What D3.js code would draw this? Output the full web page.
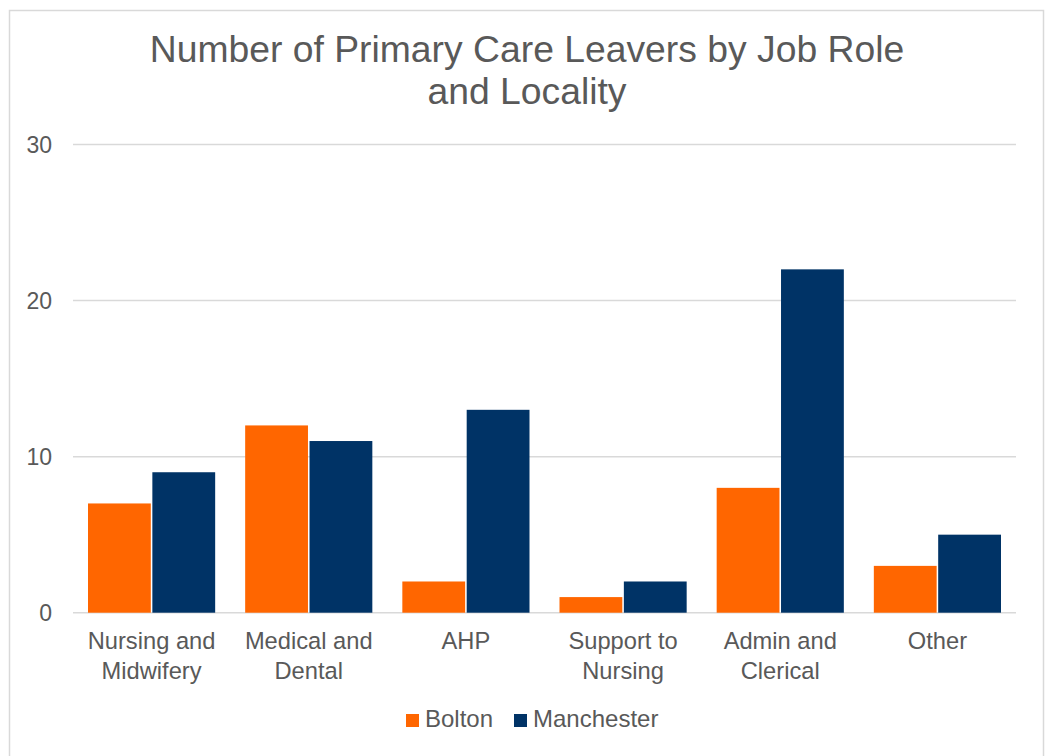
<!DOCTYPE html>
<html>
<head>
<meta charset="utf-8">
<script src="https://cdn.jsdelivr.net/npm/d3@7/dist/d3.min.js"></script>
<style>
  html, body { margin: 0; padding: 0; background: #fff; }
  svg { display: block; font-family: "Liberation Sans", Arial, sans-serif; }
</style>
</head>
<body>
<svg id="chart" width="1046" height="756"></svg>
<script>
// Leavers per job role, by locality
const categories = [
  ["Nursing and", "Midwifery"],
  ["Medical and", "Dental"],
  ["AHP"],
  ["Support to", "Nursing"],
  ["Admin and", "Clerical"],
  ["Other"]
];
const seriesNames = ["Bolton", "Manchester"];
const bolton = [7, 12, 2, 1, 8, 3];
const manchester = [9, 11, 13, 2, 22, 5];
const yTicks = [0, 10, 20, 30];
const colors = ["#FF6600", "#003366"];

const svg = d3.select("#chart");
const textColor = "#595959";

// outer frame
svg.append("rect")
  .attr("x", 9.5).attr("y", 10.5)
  .attr("width", 1034).attr("height", 770)
  .attr("fill", "#fff").attr("stroke", "#d9d9d9").attr("stroke-width", 1.5);

// title
const title = svg.append("text")
  .attr("text-anchor", "middle")
  .attr("fill", textColor)
  .attr("font-size", 37.3);
title.append("tspan").attr("x", 527).attr("y", 61.5).text("Number of Primary Care Leavers by Job Role");
title.append("tspan").attr("x", 527).attr("y", 104).text("and Locality");

const margin = { left: 73, right: 1016, top: 144.5, bottom: 612.7 };

const x0 = d3.scaleBand()
  .domain(d3.range(categories.length))
  .range([margin.left, margin.right])
  .paddingInner(0).paddingOuter(0);

const groupPad = 15;
const x1 = d3.scaleBand()
  .domain(seriesNames)
  .range([groupPad, x0.bandwidth() - groupPad])
  .paddingInner(0.024);

const y = d3.scaleLinear().domain([0, 30]).range([margin.bottom, margin.top]);

// gridlines
svg.append("g")
  .selectAll("line")
  .data(yTicks)
  .join("line")
  .attr("x1", margin.left).attr("x2", margin.right)
  .attr("y1", d => y(d)).attr("y2", d => y(d))
  .attr("stroke", "#d9d9d9").attr("stroke-width", 1.5);

// y tick labels
svg.append("g")
  .selectAll("text")
  .data(yTicks)
  .join("text")
  .attr("x", 52).attr("y", d => y(d))
  .attr("dy", "0.35em")
  .attr("text-anchor", "end")
  .attr("fill", textColor)
  .attr("font-size", 23)
  .text(d => d);

// bars
const seriesData = [bolton, manchester];
const groups = svg.append("g")
  .selectAll("g")
  .data(seriesNames)
  .join("g")
  .attr("fill", (d, i) => colors[i]);

groups.selectAll("rect")
  .data((name, si) => seriesData[si].map((v, ci) => ({ name, v, ci })))
  .join("rect")
  .attr("x", d => x0(d.ci) + x1(d.name))
  .attr("width", x1.bandwidth())
  .attr("y", d => y(d.v))
  .attr("height", d => y(0) - y(d.v));

// category labels
const catLabels = svg.append("g")
  .selectAll("text")
  .data(categories)
  .join("text")
  .attr("text-anchor", "middle")
  .attr("fill", textColor)
  .attr("font-size", 23.7);
catLabels.selectAll("tspan")
  .data((lines, ci) => lines.map((t, li) => ({ t, li, ci })))
  .join("tspan")
  .attr("x", d => x0(d.ci) + x0.bandwidth() / 2)
  .attr("y", d => 649 + d.li * 29.5)
  .text(d => d.t);

// legend
const legendItems = [
  { name: seriesNames[0], color: colors[0], x: 406 },
  { name: seriesNames[1], color: colors[1], x: 514 }
];
const legend = svg.append("g")
  .selectAll("g")
  .data(legendItems)
  .join("g")
  .attr("transform", d => `translate(${d.x},714)`);
legend.append("rect")
  .attr("width", 13).attr("height", 13)
  .attr("fill", d => d.color);
legend.append("text")
  .attr("x", 19).attr("y", 13)
  .attr("fill", textColor)
  .attr("font-size", 24)
  .text(d => d.name);
</script>
</body>
</html>
